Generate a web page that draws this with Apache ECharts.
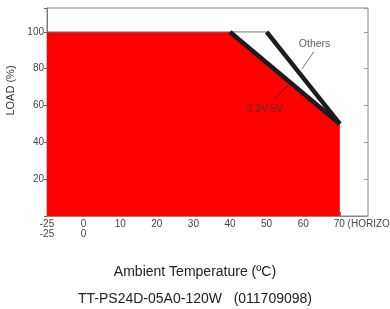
<!DOCTYPE html>
<html>
<head>
<meta charset="utf-8">
<script src="https://cdn.jsdelivr.net/npm/echarts@6/dist/echarts.min.js"></script>
<style>
  html, body { margin: 0; padding: 0; background: #fff; }
  #chart { width: 390px; height: 309px; }
</style>
</head>
<body>
<div id="chart"></div>
<script>
// derating curves (temperature in degC, load in %)
var curveTemps = [-25, 40, 70, 70]
var curveLoads = [100, 100, 50, 0]
var line33Temps = [40, 70]
var line33Loads = [100, 50]
var othersTemps = [50, 70]
var othersLoads = [100, 50]
var topTemps = [-25, 50]
var topLoads = [100, 100]
// annotation labels and their leaders
var noteNames = ['Others', '3.3V,5V']
var noteTemps = [63.1, 49.5]
var noteLoads = [93.5, 58.2]
var leaderOthersTemps = [62.9, 59.6]
var leaderOthersLoads = [89.3, 79.7]
var leader33Temps = [52.2, 55.8]
var leader33Loads = [63.6, 71.2]
var xTicks = [-25, 0, 10, 20, 30, 40, 50, 60, 70]
var yTicks = [20, 40, 60, 80, 100]

var font = 'Liberation Sans, Arial, sans-serif'

// the -25..0 stretch is squeezed on the axis like one 10 degree step
function toAxis(t) {
  return t < 0 ? t * 10 / 25 : t
}
function fromAxis(v) {
  return v < 0 ? v * 25 / 10 : v
}
function pairs(xs, ys) {
  return xs.map(function (x, i) { return [toAxis(x), ys[i]] })
}

var chart = echarts.init(document.getElementById('chart'))
chart.setOption({
  animation: false,
  title: {
    text: 'Ambient Temperature (ºC)',
    subtext: 'TT-PS24D-05A0-120W   (011709098)',
    left: 'center',
    top: 260,
    itemGap: 13,
    textStyle: { fontFamily: font, fontSize: 14, fontWeight: 'normal', color: '#222' },
    subtextStyle: { fontFamily: font, fontSize: 14, color: '#222' }
  },
  grid: {
    left: 47, right: 22, top: 8, bottom: 93,
    show: true, borderColor: '#888', borderWidth: 1,
    containLabel: false, outerBoundsMode: 'none'
  },
  xAxis: {
    type: 'value',
    min: -10,
    max: 77.7,
    interval: 10,
    splitLine: { show: false },
    axisLine: { show: true, onZero: false, lineStyle: { color: '#888' } },
    axisTick: { show: true, inside: true, length: 4, lineStyle: { color: '#666' } },
    axisLabel: {
      margin: 3,
      fontFamily: font,
      fontSize: 10,
      lineHeight: 10,
      color: '#444',
      showMaxLabel: false,
      formatter: function (v) {
        var t = Math.round(fromAxis(v))
        if (xTicks.indexOf(t) < 0 || Math.abs(fromAxis(v) - t) > 0.01) return ''
        if (t === -25 || t === 0) return t + '\n' + t
        if (t === 70) return '{s|}{t|70 (HORIZONTAL)}'
        return String(t)
      },
      rich: {
        s: { width: 72 },
        t: { fontFamily: font, fontSize: 10, color: '#444' }
      }
    }
  },
  yAxis: [{
    type: 'value',
    position: 'left',
    min: 0,
    max: 113,
    interval: 20,
    name: 'LOAD (%)',
    nameLocation: 'middle',
    nameRotate: 90,
    nameGap: 26,
    nameTextStyle: { fontFamily: font, fontSize: 11, color: '#333', padding: [0, 0, 0, 43] },
    splitLine: { show: false },
    axisLine: { show: true, onZero: false, lineStyle: { color: '#777' } },
    axisTick: { show: true, inside: false, length: 3, lineStyle: { color: '#666' } },
    axisLabel: {
      margin: 3,
      fontFamily: font,
      fontSize: 10,
      color: '#444',
      formatter: function (v) {
        return yTicks.indexOf(v) >= 0 ? String(v) : ''
      }
    }
  }, {
    type: 'value',
    position: 'right',
    min: 0,
    max: 113,
    interval: 20,
    splitLine: { show: false },
    axisLine: { show: false, onZero: false },
    axisTick: { show: true, inside: true, length: 4, lineStyle: { color: '#999' } },
    axisLabel: { show: false }
  }],
  series: [
    {
      type: 'line',
      data: pairs(curveTemps, curveLoads),
      symbol: 'none',
      lineStyle: { width: 0 },
      areaStyle: { color: '#ff0000', opacity: 1 },
      z: 1
    },
    {
      type: 'line',
      data: pairs(topTemps, topLoads),
      symbol: 'none',
      lineStyle: { width: 1, color: '#777' },
      z: 2
    },
    {
      type: 'line',
      data: pairs(line33Temps, line33Loads),
      symbol: 'none',
      lineStyle: { width: 4.5, color: '#1c1c1c', cap: 'butt' },
      z: 3
    },
    {
      type: 'line',
      data: pairs(othersTemps, othersLoads),
      symbol: 'none',
      lineStyle: { width: 4.5, color: '#1c1c1c', cap: 'butt' },
      z: 3
    },
    {
      type: 'line',
      data: pairs(leaderOthersTemps, leaderOthersLoads),
      symbol: 'none',
      lineStyle: { width: 0.8, color: '#555' },
      z: 4
    },
    {
      type: 'line',
      data: pairs(leader33Temps, leader33Loads),
      symbol: 'none',
      lineStyle: { width: 0.8, color: '#222' },
      z: 4
    },
    {
      type: 'scatter',
      symbolSize: 0,
      data: noteNames.map(function (n, i) {
        return { name: n, value: [toAxis(noteTemps[i]), noteLoads[i]] }
      }),
      label: {
        show: true,
        position: 'inside',
        formatter: '{b}',
        fontFamily: font,
        fontSize: 10.5,
        color: '#333'
      },
      z: 5
    }
  ]
})
</script>
</body>
</html>
